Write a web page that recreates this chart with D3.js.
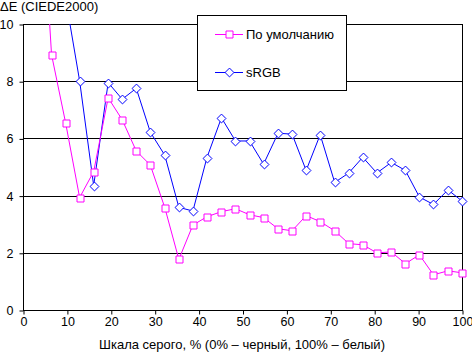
<!DOCTYPE html>
<html>
<head>
<meta charset="utf-8">
<script src="https://cdn.jsdelivr.net/npm/d3@7"></script>
<style>
  body { margin: 0; background: #fff; }
  svg { display: block; }
  text { font-family: Arial, "Liberation Sans", sans-serif; font-size: 12px; fill: #000; }
</style>
</head>
<body>
<svg id="chart" width="472" height="353"></svg>
<script>
// gray level, % (0% - black, 100% - white)
const grayLevels = [0, 3.2, 6.5, 9.7, 12.9, 16.1, 19.4, 22.6, 25.8, 29.0, 32.3, 35.5, 38.7, 41.9, 45.2, 48.4,
  51.6, 54.8, 58.1, 61.3, 64.5, 67.7, 71.0, 74.2, 77.4, 80.6, 83.9, 87.1, 90.3, 93.5, 96.8, 100];
const defaultValues = [null, 17.3, 8.93, 6.55, 3.93, 4.84, 7.42, 6.65, 5.56, 5.07, 3.58, 1.77, 2.97, 3.26, 3.44, 3.54,
  3.33, 3.23, 2.84, 2.77, 3.30, 3.09, 2.77, 2.32, 2.28, 2.00, 2.03, 1.62, 1.93, 1.23, 1.37, 1.30];
const srgbValues = [null, null, null, 10.9, 8.01, 4.35, 7.95, 7.37, 7.75, 6.22, 5.41, 3.59, 3.46, 5.33, 6.72, 5.91,
  5.91, 5.10, 6.18, 6.15, 4.88, 6.13, 4.46, 4.79, 5.34, 4.79, 5.16, 4.88, 3.95, 3.69, 4.20, 3.81];
const xTicks = [0, 10, 20, 30, 40, 50, 60, 70, 80, 90, 100];
const yTicks = [0, 2, 4, 6, 8, 10];
const seriesNames = ['По умолчанию', 'sRGB'];

const svg = d3.select('#chart');
const x = d3.scaleLinear().domain([0, 100]).range([23, 462]);
const y = d3.scaleLinear().domain([0, 10]).range([310, 24]);

// clip lines to plot area
svg.append('defs').append('clipPath').attr('id', 'plot')
  .append('rect').attr('x', 23).attr('y', 24).attr('width', 440).attr('height', 286);

// gridlines
svg.append('g').selectAll('line').data(yTicks.filter(d => d > 0)).join('line')
  .attr('x1', 23).attr('x2', 462)
  .attr('y1', d => Math.round(y(d)) + 0.5).attr('y2', d => Math.round(y(d)) + 0.5)
  .attr('stroke', '#000');

// right border of plot area
svg.append('line').attr('x1', 462.5).attr('x2', 462.5).attr('y1', 24).attr('y2', 310)
  .attr('stroke', '#000');

// axes
const xAxis = d3.axisBottom(x).tickValues(xTicks).tickSize(4).tickPadding(3).tickFormat(d3.format('d'));
const gx = svg.append('g').attr('transform', 'translate(0.5,310.5)').call(xAxis);
gx.select('.domain').attr('d', `M${x(0) - 0.5},0H${x(100) + 0.5}`);
const yAxis = d3.axisLeft(y).tickValues(yTicks).tickSize(4).tickPadding(6).tickFormat(d3.format('d'));
const gy = svg.append('g').attr('transform', 'translate(23.5,0.5)').call(yAxis);
gy.select('.domain').attr('d', `M0,${y(10)}V${y(0)}`);
svg.selectAll('.tick text').style('font-family', 'Arial, "Liberation Sans", sans-serif').style('font-size', '12.5px');
svg.selectAll('.tick line, .domain').attr('stroke', '#000');

const plot = svg.append('g').attr('clip-path', 'url(#plot)');
const markers = svg.append('g');

function drawSeries(values, color, marker) {
  const pts = grayLevels.map((g, i) => ({ g, v: values[i] })).filter(d => d.v != null);
  const line = d3.line().x(d => x(d.g)).y(d => y(d.v));
  plot.append('path').datum(pts).attr('d', line)
    .attr('fill', 'none').attr('stroke', color).attr('stroke-width', 1);
  const sym = d3.symbol().type(marker === 'square' ? d3.symbolSquare : d3.symbolDiamond2)
    .size(marker === 'square' ? 49 : 50);
  // markers outside the value range are not drawn
  markers.append('g').selectAll('path').data(pts.filter(d => d.v <= 10)).join('path')
    .attr('transform', d => `translate(${Math.round(x(d.g)) + 0.5},${Math.round(y(d.v)) + 0.5})`)
    .attr('d', sym).attr('fill', '#fff').attr('stroke', color).attr('stroke-width', 1);
}
drawSeries(srgbValues, '#0000ff', 'diamond');
drawSeries(defaultValues, '#ff00ff', 'square');

// legend
const legend = svg.append('g');
legend.append('rect').attr('x', 197.5).attr('y', 15.5).attr('width', 149).attr('height', 75)
  .attr('fill', '#fff').attr('stroke', '#000');
[
  { name: seriesNames[0], color: '#ff00ff', type: d3.symbolSquare, size: 49, cy: 34 },
  { name: seriesNames[1], color: '#0000ff', type: d3.symbolDiamond2, size: 50, cy: 72 }
].forEach(e => {
  legend.append('line').attr('x1', 215).attr('x2', 243).attr('y1', e.cy + 0.5).attr('y2', e.cy + 0.5)
    .attr('stroke', e.color);
  legend.append('path').attr('transform', `translate(229.5,${e.cy + 0.5})`)
    .attr('d', d3.symbol().type(e.type).size(e.size)).attr('fill', '#fff').attr('stroke', e.color);
  legend.append('text').attr('x', 246).attr('y', e.cy + 5).style('font-size', '13px').text(e.name);
});

// titles
svg.append('text').attr('x', 0).attr('y', 11).style('font-size', '13px').text('ΔE (CIEDE2000)');
svg.append('text').attr('x', 242).attr('y', 349).attr('text-anchor', 'middle').style('font-size', '13px')
  .text('Шкала серого, % (0% – черный, 100% – белый)');
</script>
</body>
</html>
